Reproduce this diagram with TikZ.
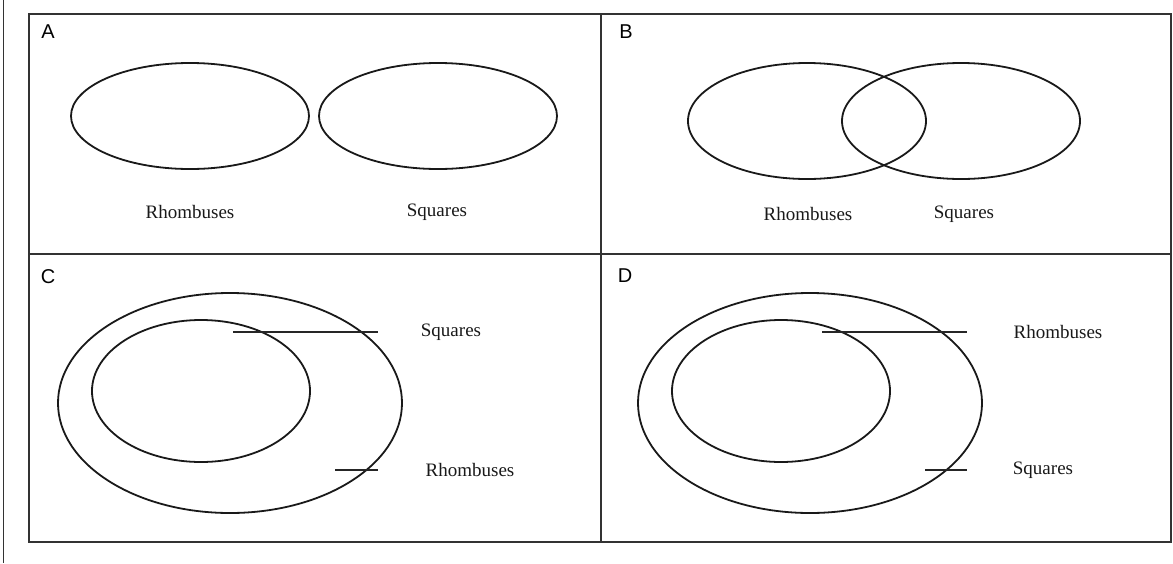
\documentclass[tikz,border=0pt]{standalone}
\usepackage{fontspec}
\setmainfont{Liberation Serif}
\newfontfamily\panelfont{Liberation Sans}
\begin{document}
\begin{tikzpicture}[x=0.5pt,y=-0.5pt,
  frame/.style={line width=1pt, draw=black!80},
  set/.style={line width=0.9pt, draw=black!90},
  lead/.style={line width=0.6pt, draw=black!85},
  lbl/.style={font=\fontsize{9.5}{11}\selectfont, text=black!90},
  tag/.style={font=\panelfont\fontsize{10}{11}\selectfont}]
  \useasboundingbox (0,0) rectangle (1173,563);
  % frame
  \draw[line width=0.5pt, black!80] (3,0) -- (3,563);
  \draw[frame] (29,14) rectangle (1171,542);
  \draw[frame] (601,14) -- (601,542);
  \draw[frame] (29,254) -- (1171,254);
  \node[tag] (tA) at (48,32) {A};
  \node[tag] (tB) at (626,32) {B};
  \node[tag] (tC) at (48,277) {C};
  \node[tag] (tD) at (625,276) {D};
  % A: disjoint
  \draw[set] (190,116) ellipse [x radius=119, y radius=53];
  \draw[set] (438,116) ellipse [x radius=119, y radius=53];
  \node[lbl] (rhA) at (190,212) {Rhombuses};
  \node[lbl] (sqA) at (437,212) {Squares};
  % B: overlapping
  \draw[set] (807,121) ellipse [x radius=119, y radius=58];
  \draw[set] (961,121) ellipse [x radius=119, y radius=58];
  \node[lbl] (rhB) at (808,214) {Rhombuses};
  \node[lbl] (sqB) at (964,214) {Squares};
  % C: squares inside rhombuses
  \draw[set] (230,403) ellipse [x radius=172, y radius=110];
  \draw[set] (201,391) ellipse [x radius=109, y radius=71];
  \node[lbl] (sqC) at (451,332) {Squares};
  \node[lbl] (rhC) at (470,470) {Rhombuses};
  \coordinate (sqCa) at (233,332);
  \coordinate (sqCb) at (378,332);
  \coordinate (rhCa) at (335,470);
  \coordinate (rhCb) at (378,470);
  \draw[lead] (sqCa) -- (sqCb);
  \draw[lead] (rhCa) -- (rhCb);
  % D: rhombuses inside squares
  \draw[set] (810,403) ellipse [x radius=172, y radius=110];
  \draw[set] (781,391) ellipse [x radius=109, y radius=71];
  \node[lbl] (rhD) at (1058,332) {Rhombuses};
  \node[lbl] (sqD) at (1043,470) {Squares};
  \coordinate (rhDa) at (822,332);
  \coordinate (rhDb) at (967,332);
  \coordinate (sqDa) at (925,470);
  \coordinate (sqDb) at (967,470);
  \draw[lead] (rhDa) -- (rhDb);
  \draw[lead] (sqDa) -- (sqDb);
\end{tikzpicture}
\end{document}
